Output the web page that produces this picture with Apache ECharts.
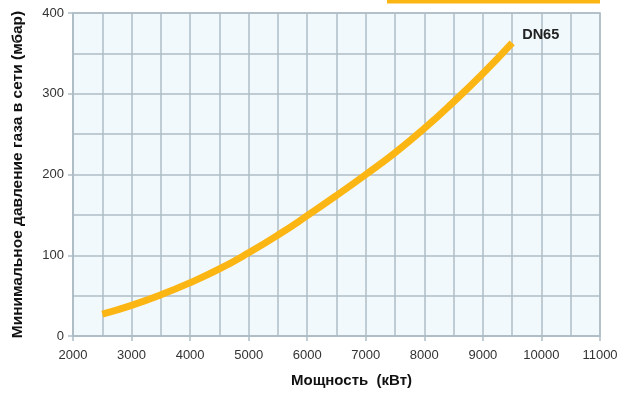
<!DOCTYPE html>
<html>
<head>
<meta charset="utf-8">
<script src="https://cdn.jsdelivr.net/npm/echarts@6/dist/echarts.min.js"></script>
<style>html,body{margin:0;padding:0;background:#fff}#c{width:636px;height:395px}</style>
</head>
<body>
<div id="c"></div>
<script>
const powerKW = [2500, 3000, 3500, 4000, 4500, 5000, 5500, 6000, 6500, 7000, 7500, 8000, 8500, 9000, 9500];
const pressureMbar = [27, 38, 51, 66, 83, 103, 125, 149, 174, 200, 227, 257, 290, 325, 363];
const seriesName = 'DN65';
const xTitle = 'Мощность  (кВт)';
const yTitle = 'Минимальное давление газа в сети (мбар)';

const gridColor = '#aebdc5';
const font = 'Liberation Sans, Arial, Helvetica, sans-serif';
const chart = echarts.init(document.getElementById('c'), null, {renderer: 'canvas'});
chart.setOption({
  animation: false,
  grid: {left: 73, right: 36, top: 13, bottom: 59, show: true, backgroundColor: '#f2f9fd', borderColor: gridColor, borderWidth: 1.5},
  xAxis: {
    type: 'value', min: 2000, max: 11000, interval: 1000,
    name: xTitle, nameLocation: 'middle', nameGap: 37,
    nameTextStyle: {fontFamily: font, fontWeight: 'bold', fontSize: 15, color: '#111', padding: [0, 0, 0, 30]},
    axisLine: {show: true, lineStyle: {color: gridColor, width: 1.5}},
    axisTick: {show: true, inside: false, length: 5, lineStyle: {color: gridColor, width: 1.5}},
    axisLabel: {margin: 13, fontFamily: font, fontSize: 13, color: '#333', formatter: v => String(v)},
    splitLine: {show: true, lineStyle: {color: gridColor, width: 1.5}},
    minorTick: {show: false, splitNumber: 2},
    minorSplitLine: {show: true, lineStyle: {color: gridColor, width: 1.5}}
  },
  yAxis: {
    type: 'value', min: 0, max: 400, interval: 100,
    name: yTitle, nameLocation: 'middle', nameGap: 47,
    nameTextStyle: {fontFamily: font, fontWeight: 'bold', fontSize: 15.5, color: '#111'},
    axisLine: {show: true, lineStyle: {color: gridColor, width: 1.5}},
    axisTick: {show: true, inside: false, length: 5, lineStyle: {color: gridColor, width: 1.5}},
    axisLabel: {margin: 9, fontFamily: font, fontSize: 13, color: '#333', formatter: v => String(v)},
    splitLine: {show: true, lineStyle: {color: gridColor, width: 1.5}},
    minorTick: {show: false, splitNumber: 2},
    minorSplitLine: {show: true, lineStyle: {color: gridColor, width: 1.5}}
  },
  graphic: [{type: 'rect', shape: {x: 387, y: 0, width: 213, height: 3.5}, style: {fill: '#fbb614'}, silent: true}],
  series: [{
    name: seriesName, type: 'line', smooth: 0.5, showSymbol: false,
    data: powerKW.map((x, i) => [x, pressureMbar[i]]),
    lineStyle: {color: '#fbb614', width: 7, cap: 'butt'},
    endLabel: {show: true, formatter: seriesName, fontFamily: font, fontWeight: 'bold', fontSize: 14.5, color: '#222', offset: [2, -8]}
  }]
});
</script>
</body>
</html>
